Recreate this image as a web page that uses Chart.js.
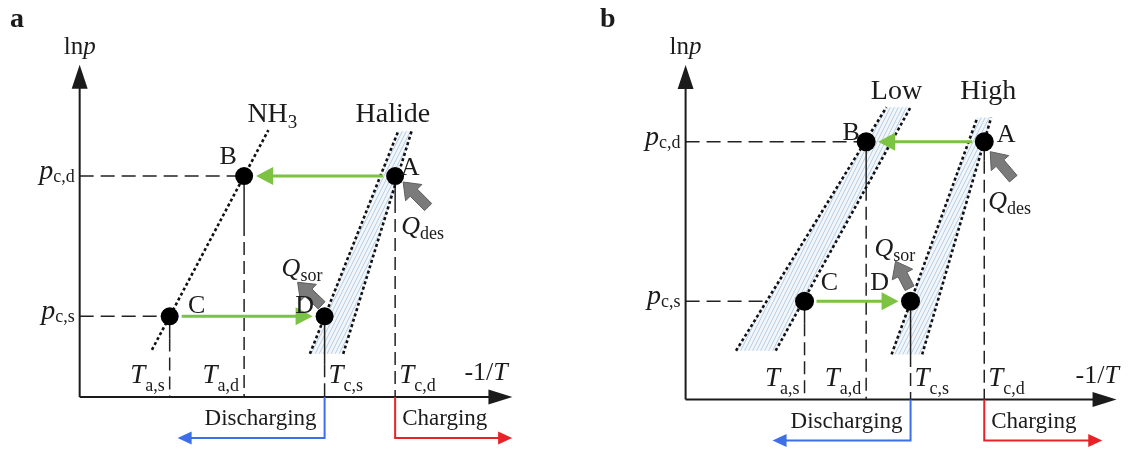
<!DOCTYPE html>
<html>
<head>
<meta charset="utf-8">
<script src="https://cdn.jsdelivr.net/npm/chart.js@4.4.1/dist/chart.umd.min.js"></script>
<style>
  html, body { margin: 0; padding: 0; background: #fff; }
  #wrap { position: relative; width: 1128px; height: 456px; overflow: hidden; }
  .panel { position: absolute; top: 0; width: 564px; height: 456px; }
</style>
</head>
<body>
<div id="wrap">
  <div class="panel" style="left:0"><canvas id="chartA" width="564" height="456"></canvas></div>
  <div class="panel" style="left:564px"><canvas id="chartB" width="564" height="456"></canvas></div>
</div>
<script>
// ---------- shared names ----------
const tempSubs = ['a,s', 'a,d', 'c,s', 'c,d'];   // subscripts of T on the -1/T axis
const pressSubs = ['c,d', 'c,s'];                // subscripts of p on the ln p axis
const pointNames = ['A', 'B', 'C', 'D'];
const pointTempIdx = [3, 1, 0, 2];               // A=T_c,d  B=T_a,d  C=T_a,s  D=T_c,s
const pointPressIdx = [0, 0, 1, 1];              // A,B at p_c,d ; C,D at p_c,s
const axisEnd = 10;                              // both axes run 0..10 plot units

// ---------- panel a: NH3 + halide ----------
const aTemps = [2.08, 3.80, 5.66, 7.29];
const aPress = [6.65, 2.43];
const aNH3 = [[1.67, 1.42], [4.36, 8.03]];
const aHalideLeft = [[5.32, 1.30], [7.36, 8.00]];
const aHalideRight = [[6.09, 1.30], [7.67, 8.00]];
const aCurveNames = [['NH', '3'], ['Halide', '']];

// ---------- panel b: low- and high-temperature halides ----------
const bTemps = [2.76, 4.19, 5.22, 6.93];
const bPress = [7.71, 2.94];
const bLowLeft = [[1.17, 1.46], [4.66, 8.74]];
const bLowRight = [[2.09, 1.46], [5.22, 8.74]];
const bHighLeft = [[4.78, 1.35], [6.77, 8.43]];
const bHighRight = [[5.49, 1.35], [7.09, 8.43]];
const bCurveNames = [['Low', ''], ['High', '']];

const SERIF = '"Liberation Serif", "Times New Roman", serif';
const INK = '#1b1b1b';
const GREEN = '#7cc243';
const BLUE = '#3d6fe8';
const RED = '#e82328';

const panels = [
  {
    id: 'chartA', tag: 'a', temps: aTemps, press: aPress,
    curves: [
      { left: aNH3, name: aCurveNames[0] },
      { left: aHalideLeft, right: aHalideRight, name: aCurveNames[1] }
    ],
    view: { xmin: -1.633, xmax: 10.984, ymin: -1.503, ymax: 11.676 },
    style: {
      tagX: 10, pointR: 9,
      ptLabel: [[15, -8], [-16, -19], [27, -10], [-20, -10]],
      curveDx: [4, -12],
      drop: [25, 49, 23, 50],
      qDes: { tip: [8, 6], tail: [33, 31], text: [6, 58] },
      qSor: { tip: [-27, -34], tail: [-3, -11], text: [-43, -40] },
      dis: 147, chg: 117, xTitleDx: -48
    }
  },
  {
    id: 'chartB', tag: 'b', temps: bTemps, press: bPress,
    curves: [
      { left: bLowLeft, right: bLowRight, name: bCurveNames[0] },
      { left: bHighLeft, right: bHighRight, name: bCurveNames[1] }
    ],
    view: { xmin: -2.601, xmax: 10.045, ymin: -1.404, ymax: 11.662 },
    style: {
      tagX: 36, pointR: 9.5,
      ptLabel: [[22, -7], [-15, -9], [25, -18], [-31, -18]],
      curveDx: [-2, 4],
      drop: [20, 48, 23, 55],
      qDes: { tip: [6, 10], tail: [29, 37], text: [4, 67] },
      qSor: { tip: [-15, -40], tail: [-1, -13], text: [-36, -45] },
      dis: 138, chg: 118, xTitleDx: -41
    }
  }
];

// x where a straight curve segment reaches height y
function xAt(seg, y) {
  const [[x0, y0], [x1, y1]] = seg;
  return x0 + (y - y0) * (x1 - x0) / (y1 - y0);
}

function fontOf(size, italic, bold) {
  return (italic ? 'italic ' : '') + (bold ? 'bold ' : '') + size + 'px ' + SERIF;
}

// draws a row of text runs (main text + subscripts) starting at x, aligned as asked
function drawRuns(ctx, runs, x, y, align) {
  let w = 0;
  runs.forEach(r => { ctx.font = fontOf(r.size, r.italic, r.bold); r.w = ctx.measureText(r.t).width; w += r.w; });
  let cx = align === 'center' ? x - w / 2 : align === 'right' ? x - w : x;
  ctx.textAlign = 'left';
  ctx.textBaseline = 'alphabetic';
  runs.forEach(r => {
    ctx.font = fontOf(r.size, r.italic, r.bold);
    ctx.fillText(r.t, cx, y + (r.dy || 0));
    cx += r.w;
  });
}

function triangle(ctx, tipX, tipY, ux, uy, len, half, color) {
  const bx = tipX - ux * len, by = tipY - uy * len;
  ctx.beginPath();
  ctx.moveTo(tipX, tipY);
  ctx.lineTo(bx - uy * half, by + ux * half);
  ctx.lineTo(bx + uy * half, by - ux * half);
  ctx.closePath();
  ctx.fillStyle = color;
  ctx.fill();
}

function blockArrow(ctx, tail, tip) {
  const dx = tip[0] - tail[0], dy = tip[1] - tail[1];
  const L = Math.hypot(dx, dy), ux = dx / L, uy = dy / L, nx = -uy, ny = ux;
  const shaft = 5, head = 11.5, headL = 15;
  const bx = tip[0] - ux * headL, by = tip[1] - uy * headL;
  ctx.beginPath();
  ctx.moveTo(tail[0] + nx * shaft, tail[1] + ny * shaft);
  ctx.lineTo(bx + nx * shaft, by + ny * shaft);
  ctx.lineTo(bx + nx * head, by + ny * head);
  ctx.lineTo(tip[0], tip[1]);
  ctx.lineTo(bx - nx * head, by - ny * head);
  ctx.lineTo(bx - nx * shaft, by - ny * shaft);
  ctx.lineTo(tail[0] - nx * shaft, tail[1] - ny * shaft);
  ctx.closePath();
  ctx.fillStyle = '#7b7b7b';
  ctx.fill();
  ctx.strokeStyle = '#5e5e5e';
  ctx.lineWidth = 1;
  ctx.stroke();
}

function hatchPattern(ctx) {
  const c = document.createElement('canvas');
  c.width = 4; c.height = 8;
  const g = c.getContext('2d');
  g.fillStyle = '#f3f7fb';
  g.fillRect(0, 0, 4, 8);
  g.strokeStyle = '#b4cde6';
  g.lineWidth = 1;
  g.beginPath();
  g.moveTo(0, 8); g.lineTo(4, 0);
  g.moveTo(-4, 8); g.lineTo(0, 0);
  g.moveTo(4, 8); g.lineTo(8, 0);
  g.stroke();
  return ctx.createPattern(c, 'repeat');
}

function makePlugin(P) {
  const S = P.style;
  return {
    id: 'schematic',
    beforeDatasetsDraw(chart) {
      const ctx = chart.ctx, xs = chart.scales.x, ys = chart.scales.y;
      const px = v => xs.getPixelForValue(v), py = v => ys.getPixelForValue(v);
      const pat = hatchPattern(ctx);
      // shaded bands between the paired dotted lines
      P.curves.forEach(c => {
        if (!c.right) return;
        ctx.save();
        ctx.beginPath();
        ctx.moveTo(px(c.left[0][0]), py(c.left[0][1]));
        ctx.lineTo(px(c.left[1][0]), py(c.left[1][1]));
        ctx.lineTo(px(c.right[1][0]), py(c.right[1][1]));
        ctx.lineTo(px(c.right[0][0]), py(c.right[0][1]));
        ctx.closePath();
        ctx.fillStyle = pat;
        ctx.fill();
        ctx.restore();
      });
    },
    afterDatasetsDraw(chart) {
      const ctx = chart.ctx, xs = chart.scales.x, ys = chart.scales.y;
      const px = v => xs.getPixelForValue(v), py = v => ys.getPixelForValue(v);
      const x0 = px(0), y0 = py(0), xt = px(axisEnd), yt = py(axisEnd);
      const pts = pointNames.map((n, i) => [px(P.temps[pointTempIdx[i]]), py(P.press[pointPressIdx[i]])]);
      const [A, B, C, D] = pts;
      ctx.save();

      // axes with arrowheads
      ctx.strokeStyle = INK;
      ctx.lineWidth = 2;
      ctx.beginPath();
      ctx.moveTo(x0, y0); ctx.lineTo(x0, yt + 20);
      ctx.moveTo(x0, y0); ctx.lineTo(xt - 20, y0);
      ctx.stroke();
      triangle(ctx, x0, yt, 0, -1, 24, 8, INK);
      triangle(ctx, xt, y0, 1, 0, 24, 7.5, INK);

      // green process arrows A -> B and C -> D
      ctx.strokeStyle = GREEN;
      ctx.lineWidth = 3;
      ctx.beginPath();
      ctx.moveTo(A[0] - 12, A[1]); ctx.lineTo(B[0] + 20, B[1]);
      ctx.moveTo(C[0] + 12, C[1]); ctx.lineTo(D[0] - 20, D[1]);
      ctx.stroke();
      triangle(ctx, B[0] + 12, B[1], -1, 0, 17, 9, GREEN);
      triangle(ctx, D[0] - 12, D[1], 1, 0, 17, 9, GREEN);

      // heat arrows at A (desorption) and D (sorption)
      const rel = (p, o) => [p[0] + o[0], p[1] + o[1]];
      blockArrow(ctx, rel(A, S.qDes.tail), rel(A, S.qDes.tip));
      blockArrow(ctx, rel(D, S.qSor.tail), rel(D, S.qSor.tip));

      // discharging / charging brackets below the axis
      const xcs = px(P.temps[2]), xcd = px(P.temps[3]), yb = y0 + 41;
      ctx.lineWidth = 2;
      ctx.strokeStyle = BLUE;
      ctx.beginPath();
      ctx.moveTo(xcs, y0); ctx.lineTo(xcs, yb); ctx.lineTo(xcs - S.dis + 12, yb);
      ctx.stroke();
      triangle(ctx, xcs - S.dis, yb, -1, 0, 14, 6.5, BLUE);
      ctx.strokeStyle = RED;
      ctx.beginPath();
      ctx.moveTo(xcd, y0); ctx.lineTo(xcd, yb); ctx.lineTo(xcd + S.chg - 12, yb);
      ctx.stroke();
      triangle(ctx, xcd + S.chg, yb, 1, 0, 14, 6.5, RED);

      // ---- text ----
      ctx.fillStyle = INK;
      drawRuns(ctx, [{ t: P.tag, size: 28, bold: true }], S.tagX, 27, 'left');
      drawRuns(ctx, [{ t: 'ln', size: 25 }, { t: 'p', size: 25, italic: true }], x0, yt - 11, 'center');
      drawRuns(ctx, [{ t: '-1/', size: 26 }, { t: 'T', size: 26, italic: true }], xt + S.xTitleDx, y0 - 17, 'left');

      // pressure labels
      P.press.forEach((p, i) => {
        drawRuns(ctx, [{ t: 'p', size: 28, italic: true }, { t: pressSubs[i], size: 18, dy: 3 }],
          x0 - 5, py(p) + 3, 'right');
      });
      // temperature labels
      P.temps.forEach((t, i) => {
        const left = i < 2;
        drawRuns(ctx, [{ t: 'T', size: 27, italic: true }, { t: tempSubs[i], size: 18, dy: 8 }],
          px(t) + (left ? -5 : 4), y0 - 14, left ? 'right' : 'left');
      });
      // curve names
      const tops = P.curves.map(c => {
        const xTop = c.right ? (c.left[1][0] + c.right[1][0]) / 2 : c.left[1][0];
        const yTop = Math.max(c.left[1][1], c.right ? c.right[1][1] : -Infinity);
        return [px(xTop), py(yTop)];
      });
      const nameBase = Math.min(...tops.map(t => t[1])) - 8;
      P.curves.forEach((c, i) => {
        const runs = [{ t: c.name[0], size: 28 }];
        if (c.name[1]) runs.push({ t: c.name[1], size: 19, dy: 6 });
        drawRuns(ctx, runs, tops[i][0] + S.curveDx[i], nameBase, 'center');
      });
      // state point letters
      ctx.font = fontOf(26);
      ctx.textAlign = 'center';
      ctx.textBaseline = 'middle';
      pts.forEach((p, i) => ctx.fillText(pointNames[i], p[0] + S.ptLabel[i][0], p[1] + S.ptLabel[i][1]));
      // heat labels
      const qd = rel(A, S.qDes.text), qs = rel(D, S.qSor.text);
      drawRuns(ctx, [{ t: 'Q', size: 26, italic: true }, { t: 'des', size: 18, dy: 5 }], qd[0], qd[1], 'left');
      drawRuns(ctx, [{ t: 'Q', size: 26, italic: true }, { t: 'sor', size: 18, dy: 5 }], qs[0], qs[1], 'left');
      // mode labels
      drawRuns(ctx, [{ t: 'Discharging', size: 23 }], xcs - 8, y0 + 28, 'right');
      drawRuns(ctx, [{ t: 'Charging', size: 23 }], xcd + 7, y0 + 28, 'left');
      ctx.restore();
    }
  };
}

function lineSet(points, width, dash, color, order) {
  return {
    data: points.map(p => ({ x: p[0], y: p[1] })),
    showLine: true, pointRadius: 0, pointHoverRadius: 0,
    borderColor: color, borderWidth: width, borderDash: dash, borderCapStyle: 'butt',
    order
  };
}

panels.forEach(P => {
  const V = P.view, S = P.style;
  const unitY = 456 / (V.ymax - V.ymin);
  const datasets = [];

  // state points A, B, C, D
  datasets.push({
    data: pointNames.map((n, i) => ({ x: P.temps[pointTempIdx[i]], y: P.press[pointPressIdx[i]] })),
    pointRadius: S.pointR, pointHoverRadius: S.pointR,
    pointBackgroundColor: '#000', pointBorderColor: '#000', borderWidth: 0,
    showLine: false, order: 0
  });

  // dotted equilibrium lines
  P.curves.forEach(c => {
    [c.left, c.right].forEach(seg => {
      if (seg) datasets.push(lineSet(seg, 2.6, [3, 2.6], '#111', 2));
    });
  });

  // horizontal pressure guides, from the ln p axis to the first curve they meet
  P.press.forEach(p => {
    const end = Math.min(...P.curves.map(c => xAt(c.left, p)));
    datasets.push(lineSet([[0, p], [end, p]], 1.5, [14, 7], '#222', 3));
  });

  // vertical temperature guides: short solid stub under each point, then dashed to the axis
  pointNames.forEach((n, i) => {
    const t = P.temps[pointTempIdx[i]], p = P.press[pointPressIdx[i]];
    const yStub = p - S.drop[i] / unitY;
    datasets.push(lineSet([[t, p], [t, yStub]], 1.5, [], '#222', 3));
    datasets.push(lineSet([[t, yStub], [t, 0]], 1.5, [13, 6], '#222', 3));
  });

  new Chart(document.getElementById(P.id), {
    type: 'scatter',
    data: { datasets },
    options: {
      responsive: false, animation: false, devicePixelRatio: 1, events: [],
      layout: { padding: 0 },
      plugins: { legend: { display: false }, tooltip: { enabled: false } },
      scales: {
        x: { type: 'linear', display: false, min: V.xmin, max: V.xmax },
        y: { type: 'linear', display: false, min: V.ymin, max: V.ymax }
      }
    },
    plugins: [makePlugin(P)]
  });
});
</script>
</body>
</html>
